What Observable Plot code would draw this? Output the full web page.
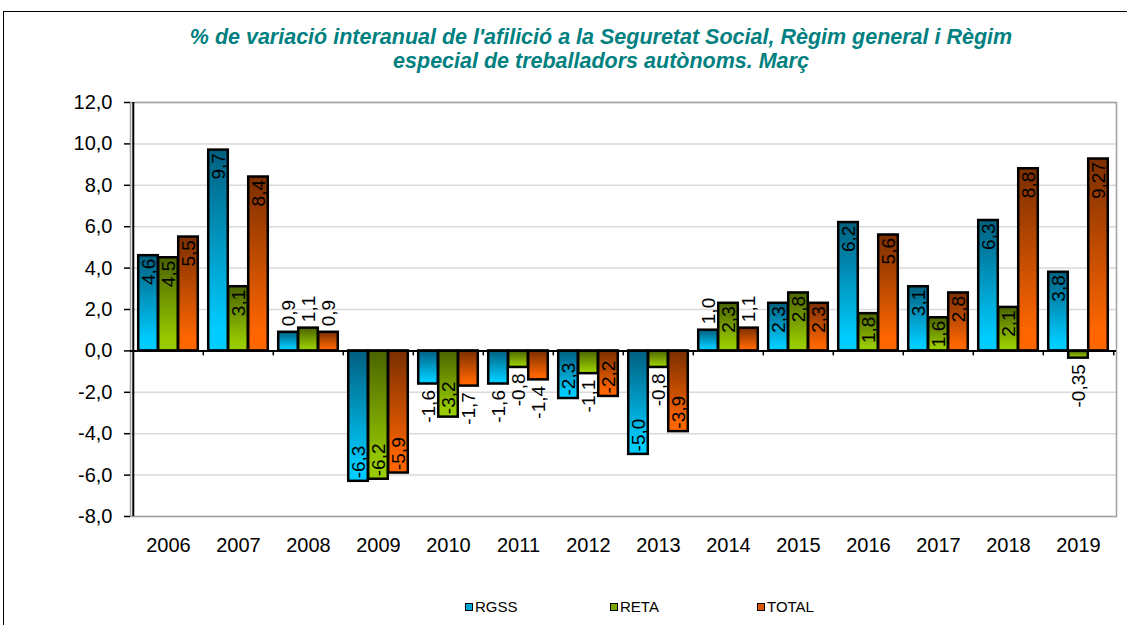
<!DOCTYPE html>
<html>
<head>
<meta charset="utf-8">
<script src="https://cdn.jsdelivr.net/npm/d3@7"></script>
<script src="https://cdn.jsdelivr.net/npm/@observablehq/plot@0.6"></script>
<style>
  body { margin: 0; background: #fff; font-family: "Liberation Sans", Arial, sans-serif; }
  #wrap { position: relative; width: 1127px; height: 625px; overflow: hidden; background: #fff; }
  #border { position: absolute; left: 3px; top: 11px; width: 1400px; height: 800px;
            border-top: 1.5px solid #000; border-left: 1.5px solid #000; }
  #title { position: absolute; left: 3px; width: 1196px; top: 25px; text-align: center;
           color: #008080; font-weight: bold; font-style: italic; font-size: 21.5px; line-height: 24px; }
  #chart { position: absolute; left: 0; top: 0; }
  .leg { position: absolute; top: 598px; font-size: 15px; line-height: 18px; color: #000; white-space: nowrap; }
  .leg span.sw { display: inline-block; width: 6px; height: 6px; border: 1.8px solid #000; margin-right: 2px; vertical-align: 1px; }
</style>
</head>
<body>
<div id="wrap">
  <div id="border"></div>
  <div id="title">% de variació interanual de l'afilició a la Seguretat Social, Règim general i Règim<br>especial de treballadors autònoms. Març</div>
  <div id="chart"></div>
  <div id="legend"></div>
</div>
<script>
// ---- data ----
const years = ["2006","2007","2008","2009","2010","2011","2012","2013","2014","2015","2016","2017","2018","2019"];
const series = ["RGSS", "RETA", "TOTAL"];
const rgss  = [4.6, 9.7, 0.9, -6.3, -1.6, -1.6, -2.3, -5.0, 1.0, 2.3, 6.2, 3.1, 6.3, 3.8];
const reta  = [4.5, 3.1, 1.1, -6.2, -3.2, -0.8, -1.1, -0.8, 2.3, 2.8, 1.8, 1.6, 2.1, -0.35];
const total = [5.5, 8.4, 0.9, -5.9, -1.7, -1.4, -2.2, -3.9, 1.1, 2.3, 5.6, 2.8, 8.8, 9.27];
const yTicks = [-8, -6, -4, -2, 0, 2, 4, 6, 8, 10, 12];

// ---- style ----
const gradients = {
  RGSS:  ["#005f7f", "#00ccff"],
  RETA:  ["#4a6300", "#99cc00"],
  TOTAL: ["#7a2e00", "#ff6600"]
};
const legendColors = { RGSS: "#00a6d6", RETA: "#7aa800", TOTAL: "#d95500" };

const W = 1127, H = 570, ml = 130, mr = 11, mt = 102, mb = 54;
const step = (W - ml - mr) / years.length;
const barW = 20, groupW = 60;
const pad = (step - groupW) / 2;
const pxPerUnit = (H - mt - mb) / (yTicks[yTicks.length - 1] - yTicks[0]);
const labelFont = 19;

const valuesBySeries = { RGSS: rgss, RETA: reta, TOTAL: total };
const fmt = v => (Math.abs(v * 10 - Math.round(v * 10)) < 1e-9 ? v.toFixed(1) : v.toFixed(2)).replace(".", ",");
const charW = c => (c === "," ? 0.278 : c === "-" ? 0.333 : 0.556);
const textPx = s => [...s].reduce((a, c) => a + charW(c), 0) * labelFont;

const rows = [];
series.forEach((s, k) => {
  valuesBySeries[s].forEach((v, i) => {
    const label = fmt(v);
    const inside = Math.abs(v) * pxPerUnit >= textPx(label) + 4;
    rows.push({ year: years[i], series: s, k, value: v, label, inside });
  });
});

const barMarks = series.map((s, k) =>
  Plot.barY(rows.filter(r => r.series === s), {
    x: "year", y: "value", fill: "series",
    stroke: "#000", strokeWidth: 2.5,
    insetLeft: pad + k * barW, insetRight: step - pad - (k + 1) * barW
  })
);

const labelMarks = [];
series.forEach((s, k) => {
  const dx = -groupW / 2 + barW * (k + 0.5);
  const cats = [
    { f: r => r.value > 0 && r.inside,  anchor: "end",   dy: 3 },
    { f: r => r.value > 0 && !r.inside, anchor: "start", dy: -6 },
    { f: r => r.value < 0 && r.inside,  anchor: "start", dy: -3 },
    { f: r => r.value < 0 && !r.inside, anchor: "end",   dy: 6 }
  ];
  cats.forEach(c => {
    labelMarks.push(Plot.text(rows.filter(r => r.series === s && c.f(r)), {
      x: "year", y: "value", text: "label", rotate: -90,
      textAnchor: c.anchor, dx, dy: c.dy, fontSize: labelFont, fill: "#000"
    }));
  });
});

const tickLenUnits = 5 / pxPerUnit;

const chart = Plot.plot({
  width: W, height: H,
  marginLeft: ml, marginRight: mr, marginTop: mt, marginBottom: mb,
  style: { fontFamily: "'Liberation Sans', Arial, sans-serif", fontSize: "20px", color: "#000", background: "transparent", overflow: "visible" },
  x: { domain: years, padding: 0, label: null },
  y: { domain: [yTicks[0], yTicks[yTicks.length - 1]], label: null },
  color: { domain: series, range: series.map(s => `url(#grad-${s})`) },
  marks: [
    Plot.ruleY(yTicks.filter(t => t !== 0), { stroke: "#d9d9d9", strokeWidth: 1.5 }),
    Plot.frame({ stroke: "#a0a0a0", strokeWidth: 1.5 }),
    ...barMarks,
    Plot.ruleY([0], { stroke: "#000", strokeWidth: 2 }),
    Plot.ruleX(years.slice(1), { x: d => d, dx: -step / 2, y1: 0, y2: -tickLenUnits, stroke: "#000", strokeWidth: 1.5 }),
    Plot.ruleX([years[years.length - 1]], { x: d => d, dx: step / 2, y1: 0, y2: -tickLenUnits, stroke: "#000", strokeWidth: 1.5 }),
    Plot.ruleX([years[0]], { x: d => d, dx: -step / 2, stroke: "#000", strokeWidth: 2 }),
    Plot.axisY(yTicks, { tickSize: 6, tickPadding: 12, strokeWidth: 1.5, fontSize: 20,
      tickFormat: d => d.toFixed(1).replace(".", ",") }),
    Plot.axisX({ tickSize: 0, tickPadding: 21, fontSize: 20 }),
    ...labelMarks
  ]
});

// gradient definitions
const defs = d3.select(chart).insert("defs", ":first-child");
series.forEach(s => {
  const g = defs.append("linearGradient").attr("id", `grad-${s}`)
    .attr("x1", 0).attr("y1", 0).attr("x2", 0).attr("y2", 1);
  g.append("stop").attr("offset", "0%").attr("stop-color", gradients[s][0]);
  g.append("stop").attr("offset", "90%").attr("stop-color", gradients[s][1]);
  g.append("stop").attr("offset", "100%").attr("stop-color", gradients[s][1]);
});
document.getElementById("chart").appendChild(chart);

// legend
const legendLeft = [465, 610, 757];
const legend = document.getElementById("legend");
series.forEach((s, k) => {
  const d = document.createElement("div");
  d.className = "leg";
  d.style.left = legendLeft[k] + "px";
  d.innerHTML = `<span class="sw" style="background:${legendColors[s]}"></span>${s}`;
  legend.appendChild(d);
});
</script>
</body>
</html>
